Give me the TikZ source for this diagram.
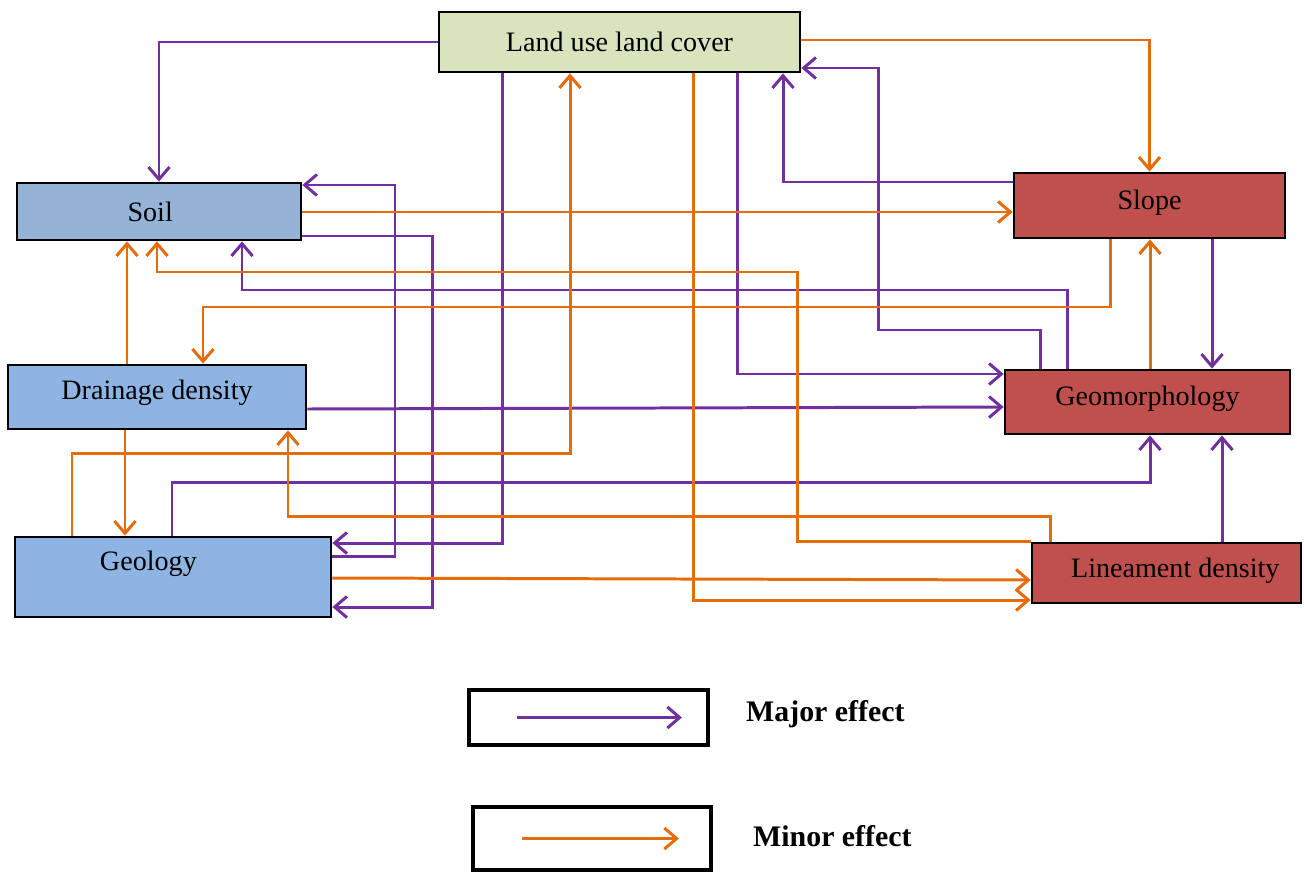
\documentclass[tikz,border=0pt]{standalone}
\usepackage{fontspec}
\setmainfont{Liberation Serif}
\usetikzlibrary{calc,arrows.meta}
\definecolor{effpurple}{RGB}{112,48,160}
\definecolor{efforange}{RGB}{228,108,10}
\definecolor{lulcgreen}{RGB}{215,228,189}
\definecolor{soilblue}{RGB}{149,179,215}
\definecolor{drainblue}{RGB}{141,180,226}
\definecolor{slopered}{RGB}{192,80,77}

\begin{document}
\begin{tikzpicture}[x=0.02cm, y=-0.02cm, >={Straight Barb[length=7pt,width=12pt]},
  box/.style={draw, line width=1.6pt, inner sep=0pt, font=\fontsize{16}{19}\selectfont},
  keybox/.style={draw, line width=2.2pt, inner sep=0pt},
  major/.style={draw=effpurple, line width=1.7pt, ->},
  minor/.style={draw=efforange, line width=1.7pt, ->}]
\useasboundingbox (0,0) rectangle (1304,872);
% factors
\node[box, fill=lulcgreen, minimum width=7.22cm, minimum height=1.2cm] (lulc) at (619.5,42) {Land use land cover};
\node[box, fill=soilblue, minimum width=5.68cm, minimum height=1.14cm] (soil) at (159,211.5) {Soil\hspace*{10pt}};
\node[box, fill=slopered, minimum width=5.42cm, minimum height=1.3cm, text depth=7pt] (slope) at (1149.5,205.5) {Slope};
\node[box, fill=drainblue, minimum width=5.96cm, minimum height=1.28cm, text depth=8pt] (drain) at (157,397) {Drainage density};
\node[box, fill=slopered, minimum width=5.7cm, minimum height=1.28cm, text depth=7pt] (geomorph) at (1147.5,402) {Geomorphology};
\node[box, fill=drainblue, minimum width=6.32cm, minimum height=1.6cm, text depth=19pt] (geology) at (173,577) {Geology\hspace*{28pt}};
\node[box, fill=slopered, minimum width=5.38cm, minimum height=1.2cm, text depth=6pt] (lineament) at (1166.5,573) {\hspace*{10pt}Lineament density};

% major effects
\draw[major] (lulc.west) -| (soil.north);
\draw[major] (502,0 |- lulc.south) |- (geology.east |- 0,543);
\draw[major] (geology.east |- 0,556) -| (395,185) -- (soil.east |- 0,185);
\draw[major] (soil.east |- 0,236) -| (432,607) -- (geology.east |- 0,607);
\draw[major] (slope.west |- 0,182) -| (783,0 |- lulc.south);
\draw[major] (1040,0 |- geomorph.north) |- (878,330) |- (lulc.east |- 0,68);
\draw[major] (1067,0 |- geomorph.north) |- (242,290) -- (242,0 |- soil.south);
\draw[major] (737,0 |- lulc.south) |- (geomorph.west |- 0,374);
\draw[major] (drain.east |- 0,409) -- (geomorph.west |- 0,407);
\draw[major] (172,0 |- geology.north) |- (1150,482) -- (1150,0 |- geomorph.south);
\draw[major] (1222,0 |- lineament.north) -- (1222,0 |- geomorph.south);
\draw[major] (1212,0 |- slope.south) -- (1212,0 |- geomorph.north);

% minor effects
\draw[minor] (lulc.east |- 0,40) -| (slope.north);
\draw[minor] (soil.east |- 0,212) -- (slope.west |- 0,212);
\draw[minor] (72,0 |- geology.north) |- (570,453) -- (570,0 |- lulc.south);
\draw[minor] (127,0 |- drain.north) -- (127,0 |- soil.south);
\draw[minor] (lineament.north west) -| (797,272) -| (157,0 |- soil.south);
\draw[minor] (1050,0 |- lineament.north) |- (288,516) -- (288,0 |- drain.south);
\draw[minor] (1110,0 |- slope.south) |- (203,307) -- (203,0 |- drain.north);
\draw[minor] (125,0 |- drain.south) -- (125,0 |- geology.north);
\draw[minor] (geology.east |- 0,578) -- (lineament.west |- 0,580);
\draw[minor] (693,0 |- lulc.south) |- (lineament.west |- 0,600);
\draw[minor] (1150,0 |- geomorph.north) -- (1150,0 |- slope.south);

% legend
\node[keybox, minimum width=4.78cm, minimum height=1.1cm] (majorkey) at (588.5,717.5) {};
\node[keybox, minimum width=4.76cm, minimum height=1.26cm] (minorkey) at (592,838.5) {};
\draw[major] ([xshift=1cm]majorkey.west) -- ([xshift=-0.56cm]majorkey.east);
\draw[minor] ([xshift=1.02cm]minorkey.west) -- ([xshift=-0.68cm]minorkey.east);
\node[anchor=west, font=\fontsize{17}{20}\bfseries] (majortext) at (740,714) {Major effect};
\node[anchor=west, font=\fontsize{17}{20}\bfseries] (minortext) at (747,836) {Minor effect};
\end{tikzpicture}
\end{document}
